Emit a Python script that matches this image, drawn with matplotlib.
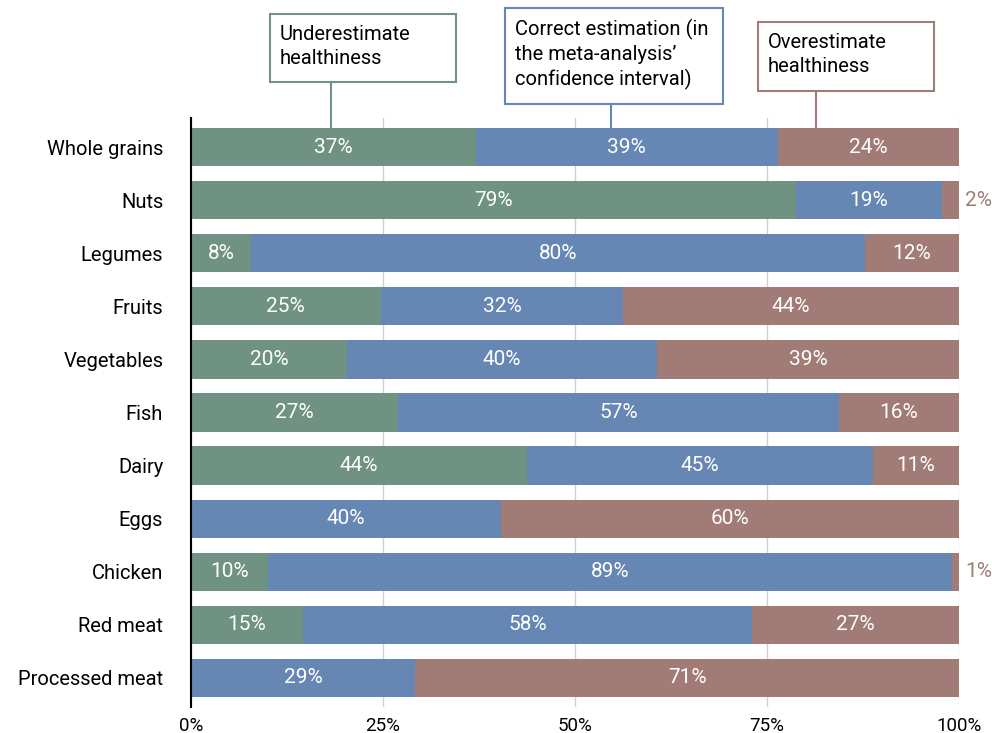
import matplotlib.pyplot as plt
from matplotlib.patches import Rectangle

plt.rcParams['font.family'] = ['Roboto', 'DejaVu Sans']

categories = ['Whole grains', 'Nuts', 'Legumes', 'Fruits', 'Vegetables', 'Fish',
              'Dairy', 'Eggs', 'Chicken', 'Red meat', 'Processed meat']
under = [37.1, 78.8, 7.8, 24.7, 20.3, 27.0, 43.8, 0.0, 10.0, 14.6, 0.0]
correct = [39.3, 19.0, 80.0, 31.6, 40.4, 57.4, 45.0, 40.4, 89.1, 58.4, 29.2]
over = [23.6, 2.2, 12.2, 43.7, 39.3, 15.6, 11.2, 59.6, 0.9, 27.0, 70.8]

series_names = ['Underestimate\nhealthiness',
                'Correct estimation (in\nthe meta-analysis\u2019\nconfidence interval)',
                'Overestimate\nhealthiness']
colors = ['#6f9283', '#6687b3', '#a17b76']

W, H = 992, 733
fig = plt.figure(figsize=(W / 100, H / 100), dpi=100)
ax = fig.add_axes([191 / W, 1 - 707 / H, 768 / W, 589 / H])

ypos = list(range(len(categories)))
left = [0.0] * len(categories)
for vals, col in zip([under, correct, over], colors):
    ax.barh(ypos, vals, left=left, height=0.72, color=col, zorder=2)
    for y, v, l in zip(ypos, vals, left):
        if v <= 0:
            continue
        if v >= 5:
            ax.text(l + v / 2, y, f'{v:.0f}%', ha='center', va='center',
                    color='white', fontsize=15, zorder=3)
        else:
            ax.text(100.8, y, f'{v:.0f}%', ha='left', va='center',
                    color=col, fontsize=15, clip_on=False)
    left = [a + b for a, b in zip(left, vals)]

ax.set_xlim(0, 100)
ax.set_ylim(len(categories) - 0.45, -0.55)
ax.set_yticks(ypos)
ax.set_yticklabels(categories, fontsize=14.5)
ax.set_xticks([0, 25, 50, 75, 100])
ax.set_xticklabels(['0%', '25%', '50%', '75%', '100%'], fontsize=13.5)
ax.tick_params(length=0)
ax.tick_params(axis='y', pad=20)
ax.tick_params(axis='x', pad=7)
ax.grid(axis='x', color='#d0d0d0', linewidth=1, zorder=0)
for s in ['top', 'right', 'bottom']:
    ax.spines[s].set_visible(False)
ax.spines['left'].set_linewidth(1.5)
ax.spines['left'].set_zorder(4)

# legend boxes with connectors (figure pixel coords)
boxes = [(270, 14, 186, 68, 331), (505, 8, 218, 96, 611), (758, 22, 176, 69, 816)]
for (bx, by, bw, bh, cx), name, col in zip(boxes, series_names, colors):
    fig.patches.append(Rectangle((bx / W, 1 - (by + bh) / H), bw / W, bh / H,
                                 transform=fig.transFigure, facecolor='white',
                                 edgecolor=col, linewidth=1.5))
    fig.text((bx + 10) / W, 1 - (by + 11) / H, name, ha='left', va='top',
             fontsize=14.5, linespacing=1.3)
    fig.add_artist(plt.Line2D([cx / W, cx / W], [1 - (by + bh) / H, 1 - 128 / H],
                              transform=fig.transFigure, color=col, linewidth=1.5))

fig.savefig('out.png', dpi=100)
